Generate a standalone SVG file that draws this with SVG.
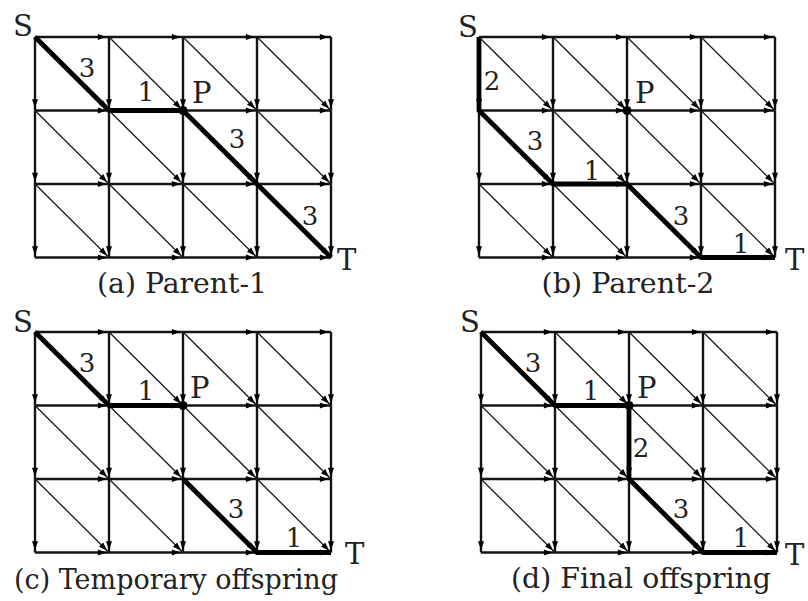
<svg xmlns="http://www.w3.org/2000/svg" xmlns:xlink="http://www.w3.org/1999/xlink" width="808" height="601" viewBox="0 0 808 601">
<style>
.g{stroke:#141414;stroke-width:2.4;fill:none}
.d{stroke:#1a1a1a;stroke-width:1.3;fill:none}
.h{stroke:#000;stroke-width:4.8;fill:none;stroke-linejoin:round}
.lab{font-family:"DejaVu Serif","Liberation Serif",serif;fill:#222}
.n{font-size:26px;text-anchor:middle}
.L{font-size:29px}
.cap{font-size:28px;text-anchor:middle}
</style>
<defs>
<marker id="arr" markerUnits="userSpaceOnUse" markerWidth="12" markerHeight="8" refX="13" refY="3.5" orient="auto" viewBox="0 0 14 7" overflow="visible">
<path d="M0,0 L10,3.5 L0,7 z" fill="#000"/>
</marker>
<g id="grid">
<g class="g" marker-end="url(#arr)">
<line x1="0" y1="0" x2="74" y2="0"/><line x1="74" y1="0" x2="148" y2="0"/><line x1="148" y1="0" x2="222" y2="0"/><line x1="222" y1="0" x2="296" y2="0"/>
<line x1="0" y1="73.5" x2="74" y2="73.5"/><line x1="74" y1="73.5" x2="148" y2="73.5"/><line x1="148" y1="73.5" x2="222" y2="73.5"/><line x1="222" y1="73.5" x2="296" y2="73.5"/>
<line x1="0" y1="147" x2="74" y2="147"/><line x1="74" y1="147" x2="148" y2="147"/><line x1="148" y1="147" x2="222" y2="147"/><line x1="222" y1="147" x2="296" y2="147"/>
<line x1="0" y1="220.5" x2="74" y2="220.5"/><line x1="74" y1="220.5" x2="148" y2="220.5"/><line x1="148" y1="220.5" x2="222" y2="220.5"/><line x1="222" y1="220.5" x2="296" y2="220.5"/>
<line x1="0" y1="0" x2="0" y2="73.5"/><line x1="0" y1="73.5" x2="0" y2="147"/><line x1="0" y1="147" x2="0" y2="220.5"/>
<line x1="74" y1="0" x2="74" y2="73.5"/><line x1="74" y1="73.5" x2="74" y2="147"/><line x1="74" y1="147" x2="74" y2="220.5"/>
<line x1="148" y1="0" x2="148" y2="73.5"/><line x1="148" y1="73.5" x2="148" y2="147"/><line x1="148" y1="147" x2="148" y2="220.5"/>
<line x1="222" y1="0" x2="222" y2="73.5"/><line x1="222" y1="73.5" x2="222" y2="147"/><line x1="222" y1="147" x2="222" y2="220.5"/>
<line x1="296" y1="0" x2="296" y2="73.5"/><line x1="296" y1="73.5" x2="296" y2="147"/><line x1="296" y1="147" x2="296" y2="220.5"/>
</g>
<g class="d" marker-end="url(#arr)">
<line x1="0" y1="0" x2="74" y2="73.5"/><line x1="74" y1="0" x2="148" y2="73.5"/><line x1="148" y1="0" x2="222" y2="73.5"/><line x1="222" y1="0" x2="296" y2="73.5"/>
<line x1="0" y1="73.5" x2="74" y2="147"/><line x1="74" y1="73.5" x2="148" y2="147"/><line x1="148" y1="73.5" x2="222" y2="147"/><line x1="222" y1="73.5" x2="296" y2="147"/>
<line x1="0" y1="147" x2="74" y2="220.5"/><line x1="74" y1="147" x2="148" y2="220.5"/><line x1="148" y1="147" x2="222" y2="220.5"/><line x1="222" y1="147" x2="296" y2="220.5"/>
</g>
</g>
</defs>
<rect width="808" height="601" fill="#fff"/>

<g id="panel-a" transform="translate(35,37)">
<g id="connectors-a">
<use xlink:href="#grid" href="#grid"/>
<polyline class="h" points="0,0 74,73.5 148,73.5 222,147 296,220.5"/>
</g>
<g id="node-P-a"><circle cx="148" cy="73.5" r="4.5" fill="#000"/><text class="lab L" x="157" y="66">P</text></g>
<g id="node-S-a"><text class="lab L" x="-22" y="-1">S</text></g>
<g id="node-T-a"><text class="lab L" x="302" y="233">T</text></g>
<g id="labels-a" class="lab n">
<text x="52" y="40">3</text><text x="111" y="64">1</text><text x="202" y="111">3</text><text x="275" y="188">3</text>
</g>
<text class="lab cap" x="147" y="256" textLength="170" lengthAdjust="spacingAndGlyphs">(a) Parent-1</text>
</g>

<g id="panel-b" transform="translate(479,37)">
<g id="connectors-b">
<use xlink:href="#grid" href="#grid"/>
<polyline class="h" points="0,0 0,73.5 74,147 148,147 222,220.5 296,220.5"/>
</g>
<g id="node-P-b"><circle cx="148" cy="73.5" r="4.5" fill="#000"/><text class="lab L" x="156" y="66">P</text></g>
<g id="node-S-b"><text class="lab L" x="-21" y="0">S</text></g>
<g id="node-T-b"><text class="lab L" x="306" y="233">T</text></g>
<g id="labels-b" class="lab n">
<text x="13" y="53">2</text><text x="56" y="113">3</text><text x="113" y="143">1</text><text x="202" y="188">3</text><text x="262" y="216">1</text>
</g>
<text class="lab cap" x="149" y="256" textLength="173" lengthAdjust="spacingAndGlyphs">(b) Parent-2</text>
</g>

<g id="panel-c" transform="translate(35,332)">
<g id="connectors-c">
<use xlink:href="#grid" href="#grid"/>
<polyline class="h" points="0,0 74,73.5 148,73.5"/>
<polyline class="h" points="148,147 222,220.5 296,220.5"/>
</g>
<g id="node-P-c"><circle cx="148" cy="73.5" r="4.5" fill="#000"/><text class="lab L" x="155" y="66">P</text></g>
<g id="node-S-c"><text class="lab L" x="-22" y="0">S</text></g>
<g id="node-T-c"><text class="lab L" x="310" y="232">T</text></g>
<g id="labels-c" class="lab n">
<text x="52" y="40">3</text><text x="111" y="68">1</text><text x="201" y="186">3</text><text x="259" y="215">1</text>
</g>
<text class="lab cap" x="141" y="257" textLength="324" lengthAdjust="spacingAndGlyphs">(c) Temporary offspring</text>
</g>

<g id="panel-d" transform="translate(481,332)">
<g id="connectors-d">
<use xlink:href="#grid" href="#grid"/>
<polyline class="h" points="0,0 74,73.5 148,73.5 148,147 222,220.5 296,220.5"/>
</g>
<g id="node-P-d"><circle cx="148" cy="73.5" r="4.5" fill="#000"/><text class="lab L" x="156" y="66">P</text></g>
<g id="node-S-d"><text class="lab L" x="-21" y="0">S</text></g>
<g id="node-T-d"><text class="lab L" x="304" y="233">T</text></g>
<g id="labels-d" class="lab n">
<text x="52" y="40">3</text><text x="110" y="68">1</text><text x="160" y="125">2</text><text x="200" y="186">3</text><text x="260" y="215">1</text>
</g>
<text class="lab cap" x="160" y="256" textLength="260" lengthAdjust="spacingAndGlyphs">(d) Final offspring</text>
</g>
</svg>
